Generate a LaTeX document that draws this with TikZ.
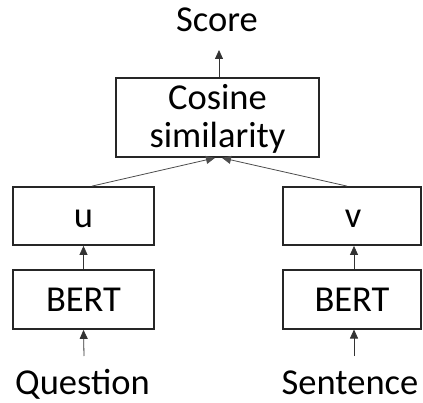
\documentclass[tikz,border=0pt]{standalone}
\usepackage{fontspec}
\setmainfont{Carlito}
\usetikzlibrary{arrows.meta}
\begin{document}
\begin{tikzpicture}[x=1pt,y=-1pt,
  box/.style={draw=black!85, line width=1.8pt, inner sep=0pt},
  txt/.style={inner sep=0pt, font=\fontsize{36.5}{40}\selectfont},
  arr/.style={draw=black!80, line width=0.8pt, -{Triangle[length=9pt,width=8pt]}},
  thin/.style={draw=black!70, line width=0.8pt, -{Triangle[length=9pt,width=8pt]}}]
\useasboundingbox (0,0) rectangle (423,403);
% boxes
\node[box, minimum width=203pt, minimum height=79pt] (cos) at (217.5,117.5) {};
\node[txt, anchor=base] (cos1) at (217.5,110) {Cosine};
\node[txt, anchor=base] (cos2) at (217.5,148) {similarity};
\node[box, minimum width=141pt, minimum height=58pt] (u) at (83.5,216) {};
\node[txt, anchor=base] (ut) at (83.5,228) {u};
\node[box, minimum width=141pt, minimum height=59pt, txt] (b1) at (83.5,299.5) {BERT};
\node[box, minimum width=138pt, minimum height=58pt] (v) at (352,216) {};
\node[txt, anchor=base] (vt) at (353,228) {v};
\node[box, minimum width=138pt, minimum height=59pt, txt] (b2) at (352,299.5) {BERT};
% texts
\node[txt, anchor=base] (score) at (217,32) {Score};
\node[txt, anchor=base] (q) at (82.5,394) {Question};
\node[txt, anchor=base] (s) at (350,394) {Sentence};
% coordinates
\coordinate (qa) at (84,356);
\coordinate (sa) at (354,356);
\coordinate (sc) at (219,50);
% connectors
\draw[arr] (qa) -- (b1.north |- b1.south) ;
\draw[arr] (sa) -- (354,329.5);
\draw[arr] (b1.north) -- (u.south);
\draw[arr] ([xshift=2pt]b2.north) -- ([xshift=2pt]v.south);
\draw[thin] ([xshift=8.5pt]u.north) -- ([xshift=-2.5pt]cos.south);
\draw[thin] ([xshift=-5pt]v.north) -- ([xshift=4.5pt]cos.south);
\draw[arr] ([xshift=1.5pt]cos.north) -- (sc);
\end{tikzpicture}
\end{document}
